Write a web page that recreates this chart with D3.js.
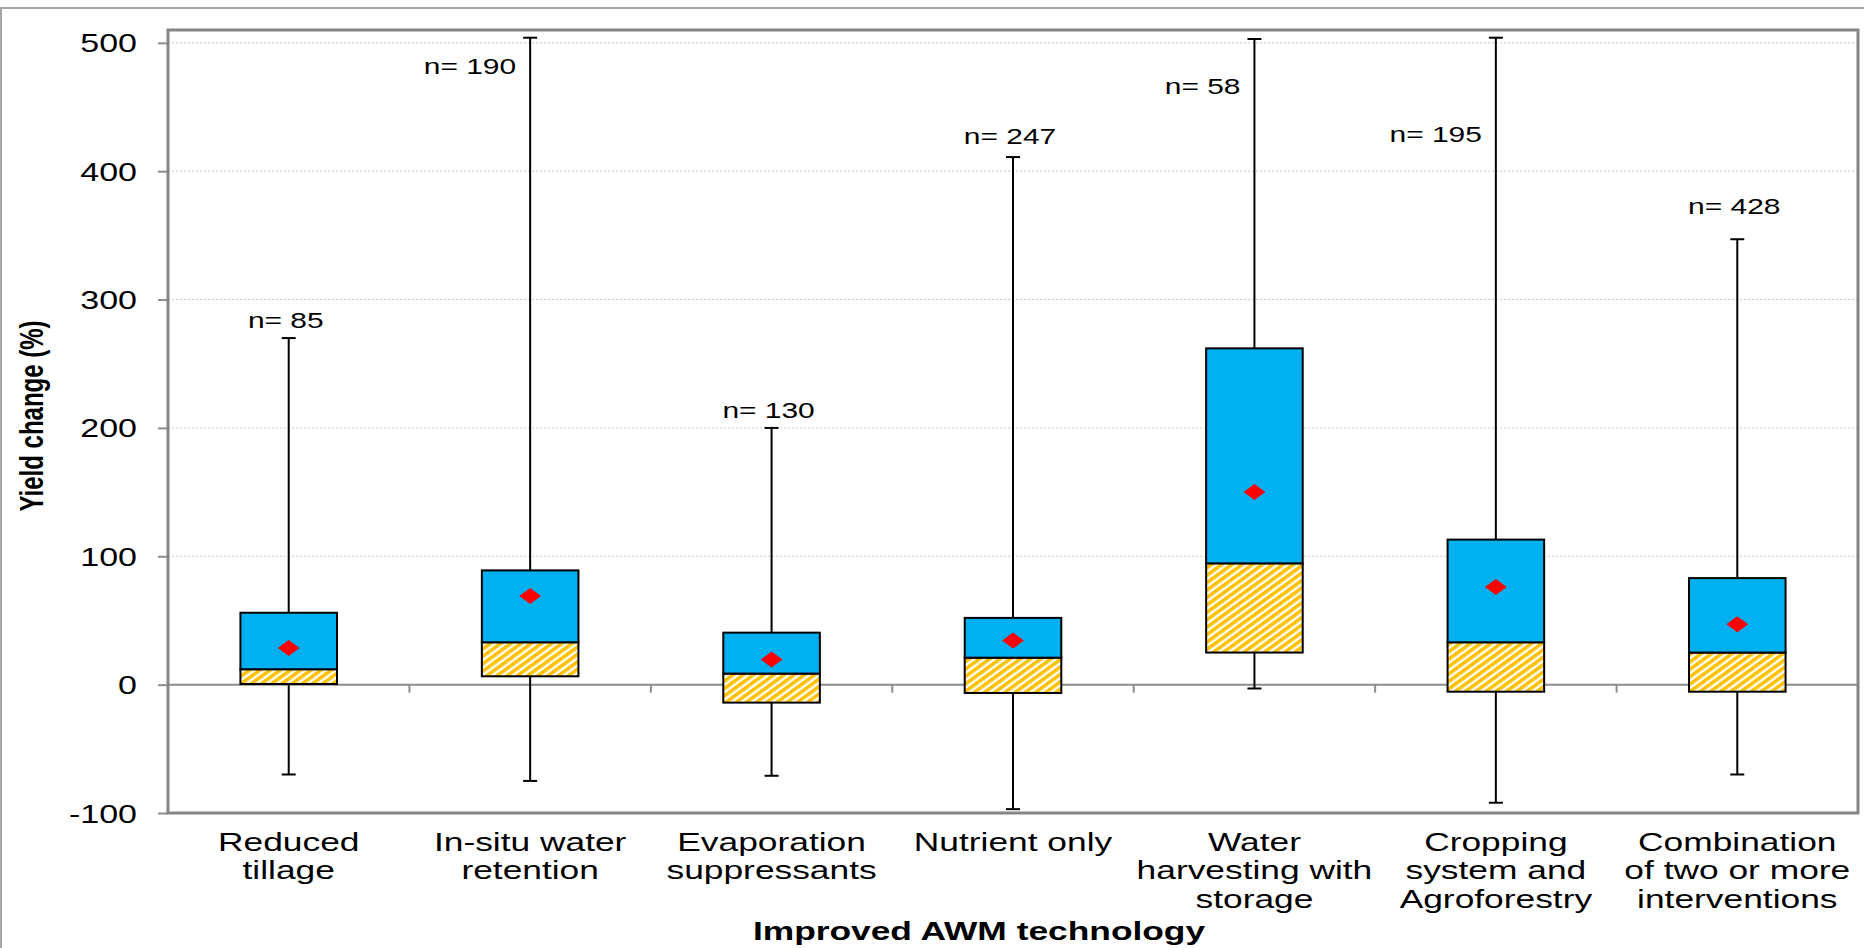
<!DOCTYPE html>
<html>
<head>
<meta charset="utf-8">
<script src="https://cdn.jsdelivr.net/npm/d3@7"></script>
<style>
  body { margin: 0; background: #fff; }
  svg text { font-family: "Liberation Sans", Arial, sans-serif; fill: #000; }
</style>
</head>
<body>
<div id="chart"></div>
<script>
// categories (each entry = label lines)
var categories = [
  ["Reduced", "tillage"],
  ["In-situ water", "retention"],
  ["Evaporation", "suppressants"],
  ["Nutrient only"],
  ["Water", "harvesting with", "storage"],
  ["Cropping", "system and", "Agroforestry"],
  ["Combination", "of two or more", "interventions"]
];

// box plot values, yield change (%)
var whiskerLow  = [-70, -75, -71, -97, -3, -92, -70];
var q1          = [0.5, 6.5, -14, -6.5, 25, -5.5, -5.5];
var median      = [12, 33, 8.6, 21, 94.5, 33, 25];
var q3          = [56, 89, 40.5, 52, 262, 113, 83];
var whiskerHigh = [270, 504, 200, 411, 503, 504, 347];
var means       = [28.6, 69, 19.5, 34.3, 150, 76, 47];

// sample sizes and the value where each n label sits
var nCounts  = [85, 190, 130, 247, 58, 195, 428];
var nLabelAt = [278, 476, 208, 421, 460, 423, 367];

var yTicks = [-100, 0, 100, 200, 300, 400, 500];

(function() {
  var W = 1864, H = 948,
      margin = {top: 30, left: 168, right: 6, bottom: 135},
      width  = W - margin.left - margin.right,
      height = H - margin.top - margin.bottom,
      sx = 1.36; // the original text is stretched sideways

  var svg = d3.select("#chart")
    .append("svg")
    .attr("width", W)
    .attr("height", H);

  // hatch for the lower half of each box
  var defs = svg.append("defs");
  var pat = defs.append("pattern")
    .attr("id", "hatch")
    .attr("patternUnits", "userSpaceOnUse")
    .attr("width", 6)
    .attr("height", 6)
    .attr("patternTransform", "rotate(54)");
  pat.append("rect").attr("width", 6).attr("height", 6).attr("fill", "#fff");
  pat.append("rect").attr("width", 3.6).attr("height", 6).attr("fill", "#FFC000");

  // outer frame
  svg.append("rect")
    .attr("x", 1).attr("y", 8)
    .attr("width", W + 10).attr("height", H + 10)
    .attr("fill", "none")
    .attr("stroke", "#a6a6a6")
    .attr("stroke-width", 2);

  var g = svg.append("g")
    .attr("transform", "translate(" + margin.left + "," + margin.top + ")");

  var x = d3.scaleBand()
    .domain(d3.range(categories.length))
    .range([0, width]);

  var y = d3.scaleLinear()
    .domain([-100, 510])
    .range([height, 0]);

  var bw = x.bandwidth() * 0.4;
  var cx = function(i) { return x(i) + x.bandwidth() / 2; };

  // dotted grid
  g.selectAll(".grid")
    .data(yTicks.filter(function(d) { return d > 0; }))
    .enter()
    .append("line")
    .attr("class", "grid")
    .attr("x1", 0).attr("x2", width)
    .attr("y1", function(d) { return y(d); })
    .attr("y2", function(d) { return y(d); })
    .attr("stroke", "#c8c8c8")
    .attr("stroke-width", 1)
    .attr("stroke-dasharray", "2,2");

  // category axis along zero
  g.append("line")
    .attr("x1", 0).attr("x2", width)
    .attr("y1", y(0)).attr("y2", y(0))
    .attr("stroke", "#8c8c8c")
    .attr("stroke-width", 2);

  g.selectAll(".ctick")
    .data(d3.range(1, categories.length))
    .enter()
    .append("line")
    .attr("class", "ctick")
    .attr("x1", function(i) { return x(i); })
    .attr("x2", function(i) { return x(i); })
    .attr("y1", y(0)).attr("y2", y(0) + 8)
    .attr("stroke", "#8c8c8c")
    .attr("stroke-width", 2);

  // y axis
  var yAxis = g.append("g")
    .call(d3.axisLeft(y).tickValues(yTicks).tickSize(10).tickFormat(function(d) { return String(d); }));
  yAxis.select(".domain").remove();
  yAxis.selectAll(".tick line").attr("stroke", "#8c8c8c").attr("stroke-width", 2);
  yAxis.selectAll(".tick text")
    .attr("x", -31 / sx)
    .attr("dy", "0.36em")
    .attr("transform", "scale(" + sx + ",1)")
    .style("font-size", "25px")
    .style("font-family", "'Liberation Sans', Arial, sans-serif")
    .attr("fill", "#000");

  // whiskers
  var boxes = g.selectAll(".box")
    .data(d3.range(categories.length))
    .enter()
    .append("g")
    .attr("class", "box");

  boxes.append("line")
    .attr("x1", cx).attr("x2", cx)
    .attr("y1", function(i) { return y(whiskerHigh[i]); })
    .attr("y2", function(i) { return y(q3[i]); })
    .attr("stroke", "#000").attr("stroke-width", 2);
  boxes.append("line")
    .attr("x1", cx).attr("x2", cx)
    .attr("y1", function(i) { return y(q1[i]); })
    .attr("y2", function(i) { return y(whiskerLow[i]); })
    .attr("stroke", "#000").attr("stroke-width", 2);
  boxes.append("line")
    .attr("x1", function(i) { return cx(i) - 7; })
    .attr("x2", function(i) { return cx(i) + 7; })
    .attr("y1", function(i) { return y(whiskerHigh[i]); })
    .attr("y2", function(i) { return y(whiskerHigh[i]); })
    .attr("stroke", "#000").attr("stroke-width", 2);
  boxes.append("line")
    .attr("x1", function(i) { return cx(i) - 7; })
    .attr("x2", function(i) { return cx(i) + 7; })
    .attr("y1", function(i) { return y(whiskerLow[i]); })
    .attr("y2", function(i) { return y(whiskerLow[i]); })
    .attr("stroke", "#000").attr("stroke-width", 2);

  // lower part q1..median (hatched), upper part median..q3 (blue)
  boxes.append("rect")
    .attr("x", function(i) { return cx(i) - bw / 2; })
    .attr("width", bw)
    .attr("y", function(i) { return y(median[i]); })
    .attr("height", function(i) { return y(q1[i]) - y(median[i]); })
    .attr("fill", "url(#hatch)")
    .attr("stroke", "#000").attr("stroke-width", 2);
  boxes.append("rect")
    .attr("x", function(i) { return cx(i) - bw / 2; })
    .attr("width", bw)
    .attr("y", function(i) { return y(q3[i]); })
    .attr("height", function(i) { return y(median[i]) - y(q3[i]); })
    .attr("fill", "#00B0F0")
    .attr("stroke", "#000").attr("stroke-width", 2);

  // mean diamonds
  boxes.append("path")
    .attr("d", d3.symbol(d3.symbolSquare, 128)())
    .attr("transform", function(i) {
      return "translate(" + cx(i) + "," + y(means[i]) + ") scale(" + sx + ",1) rotate(45)";
    })
    .attr("fill", "#FF0000");

  // n labels: above the whisker, or beside it when the whisker hits the top
  boxes.append("text")
    .attr("transform", function(i) {
      var px = whiskerHigh[i] > 450 ? cx(i) - 14 : cx(i) - 3;
      return "translate(" + px + "," + y(nLabelAt[i]) + ") scale(" + sx + ",1)";
    })
    .attr("text-anchor", function(i) { return whiskerHigh[i] > 450 ? "end" : "middle"; })
    .style("font-size", "22px")
    .text(function(i) { return "n= " + nCounts[i]; });

  // plot frame
  g.append("rect")
    .attr("width", width).attr("height", height)
    .attr("fill", "none")
    .attr("stroke", "#858585")
    .attr("stroke-width", 3);

  // category labels
  var labels = g.selectAll(".clabel")
    .data(d3.range(categories.length))
    .enter()
    .append("text")
    .attr("class", "clabel")
    .attr("text-anchor", "middle")
    .attr("transform", function(i) {
      return "translate(" + cx(i) + "," + (height + 38) + ") scale(" + sx + ",1)";
    })
    .style("font-size", "26px");
  labels.selectAll("tspan")
    .data(function(i) { return categories[i]; })
    .enter()
    .append("tspan")
    .attr("x", 0)
    .attr("dy", function(d, k) { return k === 0 ? 0 : 28.5; })
    .text(function(d) { return d; });

  // axis titles
  svg.append("text")
    .attr("text-anchor", "middle")
    .attr("transform", "translate(979,940) scale(" + sx + ",1)")
    .style("font-size", "26px")
    .style("font-weight", "bold")
    .text("Improved AWM technology");

  svg.append("text")
    .attr("text-anchor", "middle")
    .attr("transform", "translate(43,416) rotate(-90) scale(1," + sx + ")")
    .style("font-size", "24px")
    .style("font-weight", "bold")
    .text("Yield change (%)");
})();
</script>
</body>
</html>
